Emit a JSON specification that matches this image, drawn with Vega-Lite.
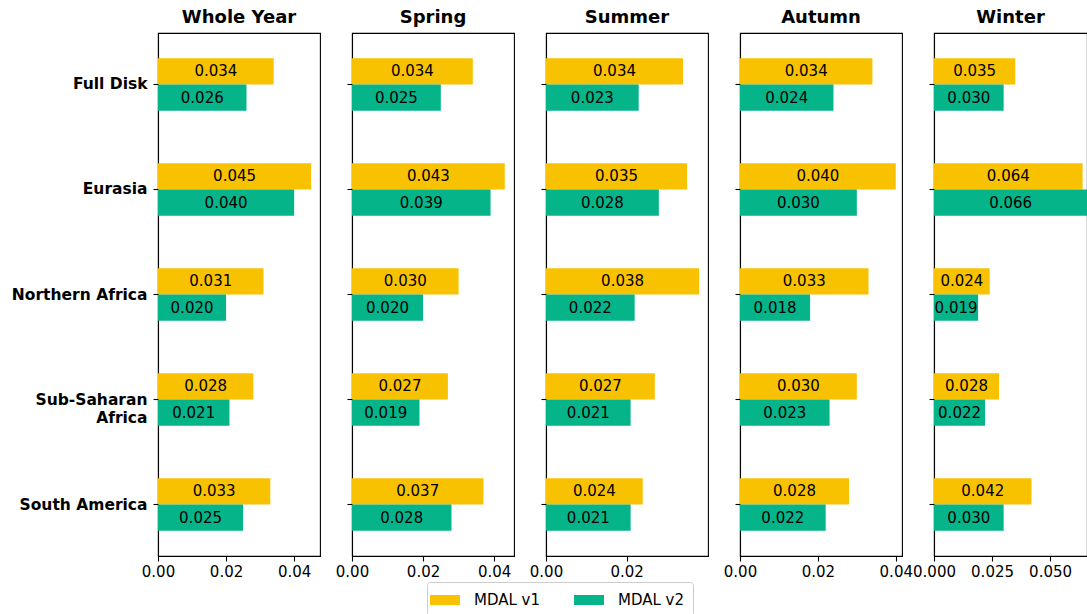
{
  "$schema": "https://vega.github.io/schema/vega-lite/v6.json",
  "padding": {"left": 10, "top": 8, "right": 0, "bottom": 0},
  "spacing": 32,
  "bounds": "flush",
  "data": {"values": [
    {"region": "Full Disk", "season": "Whole Year", "version": "MDAL v1", "value": 0.034},
    {"region": "Full Disk", "season": "Whole Year", "version": "MDAL v2", "value": 0.026},
    {"region": "Eurasia", "season": "Whole Year", "version": "MDAL v1", "value": 0.045},
    {"region": "Eurasia", "season": "Whole Year", "version": "MDAL v2", "value": 0.040},
    {"region": "Northern Africa", "season": "Whole Year", "version": "MDAL v1", "value": 0.031},
    {"region": "Northern Africa", "season": "Whole Year", "version": "MDAL v2", "value": 0.020},
    {"region": "Sub-Saharan Africa", "season": "Whole Year", "version": "MDAL v1", "value": 0.028},
    {"region": "Sub-Saharan Africa", "season": "Whole Year", "version": "MDAL v2", "value": 0.021},
    {"region": "South America", "season": "Whole Year", "version": "MDAL v1", "value": 0.033},
    {"region": "South America", "season": "Whole Year", "version": "MDAL v2", "value": 0.025},
    {"region": "Full Disk", "season": "Spring", "version": "MDAL v1", "value": 0.034},
    {"region": "Full Disk", "season": "Spring", "version": "MDAL v2", "value": 0.025},
    {"region": "Eurasia", "season": "Spring", "version": "MDAL v1", "value": 0.043},
    {"region": "Eurasia", "season": "Spring", "version": "MDAL v2", "value": 0.039},
    {"region": "Northern Africa", "season": "Spring", "version": "MDAL v1", "value": 0.030},
    {"region": "Northern Africa", "season": "Spring", "version": "MDAL v2", "value": 0.020},
    {"region": "Sub-Saharan Africa", "season": "Spring", "version": "MDAL v1", "value": 0.027},
    {"region": "Sub-Saharan Africa", "season": "Spring", "version": "MDAL v2", "value": 0.019},
    {"region": "South America", "season": "Spring", "version": "MDAL v1", "value": 0.037},
    {"region": "South America", "season": "Spring", "version": "MDAL v2", "value": 0.028},
    {"region": "Full Disk", "season": "Summer", "version": "MDAL v1", "value": 0.034},
    {"region": "Full Disk", "season": "Summer", "version": "MDAL v2", "value": 0.023},
    {"region": "Eurasia", "season": "Summer", "version": "MDAL v1", "value": 0.035},
    {"region": "Eurasia", "season": "Summer", "version": "MDAL v2", "value": 0.028},
    {"region": "Northern Africa", "season": "Summer", "version": "MDAL v1", "value": 0.038},
    {"region": "Northern Africa", "season": "Summer", "version": "MDAL v2", "value": 0.022},
    {"region": "Sub-Saharan Africa", "season": "Summer", "version": "MDAL v1", "value": 0.027},
    {"region": "Sub-Saharan Africa", "season": "Summer", "version": "MDAL v2", "value": 0.021},
    {"region": "South America", "season": "Summer", "version": "MDAL v1", "value": 0.024},
    {"region": "South America", "season": "Summer", "version": "MDAL v2", "value": 0.021},
    {"region": "Full Disk", "season": "Autumn", "version": "MDAL v1", "value": 0.034},
    {"region": "Full Disk", "season": "Autumn", "version": "MDAL v2", "value": 0.024},
    {"region": "Eurasia", "season": "Autumn", "version": "MDAL v1", "value": 0.040},
    {"region": "Eurasia", "season": "Autumn", "version": "MDAL v2", "value": 0.030},
    {"region": "Northern Africa", "season": "Autumn", "version": "MDAL v1", "value": 0.033},
    {"region": "Northern Africa", "season": "Autumn", "version": "MDAL v2", "value": 0.018},
    {"region": "Sub-Saharan Africa", "season": "Autumn", "version": "MDAL v1", "value": 0.030},
    {"region": "Sub-Saharan Africa", "season": "Autumn", "version": "MDAL v2", "value": 0.023},
    {"region": "South America", "season": "Autumn", "version": "MDAL v1", "value": 0.028},
    {"region": "South America", "season": "Autumn", "version": "MDAL v2", "value": 0.022},
    {"region": "Full Disk", "season": "Winter", "version": "MDAL v1", "value": 0.035},
    {"region": "Full Disk", "season": "Winter", "version": "MDAL v2", "value": 0.030},
    {"region": "Eurasia", "season": "Winter", "version": "MDAL v1", "value": 0.064},
    {"region": "Eurasia", "season": "Winter", "version": "MDAL v2", "value": 0.066},
    {"region": "Northern Africa", "season": "Winter", "version": "MDAL v1", "value": 0.024},
    {"region": "Northern Africa", "season": "Winter", "version": "MDAL v2", "value": 0.019},
    {"region": "Sub-Saharan Africa", "season": "Winter", "version": "MDAL v1", "value": 0.028},
    {"region": "Sub-Saharan Africa", "season": "Winter", "version": "MDAL v2", "value": 0.022},
    {"region": "South America", "season": "Winter", "version": "MDAL v1", "value": 0.042},
    {"region": "South America", "season": "Winter", "version": "MDAL v2", "value": 0.030}
  ]},
  "hconcat": [
    {
      "title": "Whole Year",
      "width": 162, "height": 523,
      "transform": [{"filter": "datum.season == 'Whole Year'"}, {"calculate": "datum.value / 2", "as": "mid"}],
      "encoding": {
        "y": {"field": "region", "type": "nominal", "sort": ["Full Disk", "Eurasia", "Northern Africa", "Sub-Saharan Africa", "South America"],
              "scale": {"paddingInner": 0.5, "paddingOuter": 0.24},
              "axis": {"title": null, "labelFontWeight": "bold", "labelFontSize": 15.5, "labelPadding": 6, "labelLineHeight": 18,
                       "labelExpr": "datum.value == 'Sub-Saharan Africa' ? ['Sub-Saharan', 'Africa'] : datum.value"}},
        "yOffset": {"field": "version", "type": "nominal", "sort": ["MDAL v1", "MDAL v2"], "scale": {"paddingInner": 0, "paddingOuter": 0}}
      },
      "layer": [
        {"mark": {"type": "bar", "clip": true},
         "encoding": {
           "x": {"field": "value", "type": "quantitative", "scale": {"domain": [0, 0.0476], "nice": false},
                 "axis": {"title": null, "values": [0, 0.02, 0.04], "format": ".2f"}},
           "color": {"field": "version", "type": "nominal", "scale": {"domain": ["MDAL v1", "MDAL v2"], "range": ["#F9C200", "#06B48A"]},
                     "legend": {"title": null, "orient": "none", "legendX": 269, "legendY": 549, "direction": "horizontal"}}
         }},
        {"mark": {"type": "text", "fontSize": 15, "color": "black", "clip": true},
         "encoding": {"x": {"field": "mid", "type": "quantitative"}, "text": {"field": "value", "type": "quantitative", "format": ".3f"}}}
      ]
    },
    {
      "title": "Spring",
      "width": 162, "height": 523,
      "transform": [{"filter": "datum.season == 'Spring'"}, {"calculate": "datum.value / 2", "as": "mid"}],
      "encoding": {
        "y": {"field": "region", "type": "nominal", "sort": ["Full Disk", "Eurasia", "Northern Africa", "Sub-Saharan Africa", "South America"],
              "scale": {"paddingInner": 0.5, "paddingOuter": 0.24}, "axis": {"title": null, "labels": false}},
        "yOffset": {"field": "version", "type": "nominal", "sort": ["MDAL v1", "MDAL v2"], "scale": {"paddingInner": 0, "paddingOuter": 0}}
      },
      "layer": [
        {"mark": {"type": "bar", "clip": true},
         "encoding": {
           "x": {"field": "value", "type": "quantitative", "scale": {"domain": [0, 0.0456], "nice": false},
                 "axis": {"title": null, "values": [0, 0.02, 0.04], "format": ".2f"}},
           "color": {"field": "version", "type": "nominal", "scale": {"domain": ["MDAL v1", "MDAL v2"], "range": ["#F9C200", "#06B48A"]},
                     "legend": {"title": null, "orient": "none", "legendX": 269, "legendY": 549, "direction": "horizontal"}}
         }},
        {"mark": {"type": "text", "fontSize": 15, "color": "black", "clip": true},
         "encoding": {"x": {"field": "mid", "type": "quantitative"}, "text": {"field": "value", "type": "quantitative", "format": ".3f"}}}
      ]
    },
    {
      "title": "Summer",
      "width": 162, "height": 523,
      "transform": [{"filter": "datum.season == 'Summer'"}, {"calculate": "datum.value / 2", "as": "mid"}],
      "encoding": {
        "y": {"field": "region", "type": "nominal", "sort": ["Full Disk", "Eurasia", "Northern Africa", "Sub-Saharan Africa", "South America"],
              "scale": {"paddingInner": 0.5, "paddingOuter": 0.24}, "axis": {"title": null, "labels": false}},
        "yOffset": {"field": "version", "type": "nominal", "sort": ["MDAL v1", "MDAL v2"], "scale": {"paddingInner": 0, "paddingOuter": 0}}
      },
      "layer": [
        {"mark": {"type": "bar", "clip": true},
         "encoding": {
           "x": {"field": "value", "type": "quantitative", "scale": {"domain": [0, 0.0402], "nice": false},
                 "axis": {"title": null, "values": [0, 0.02], "format": ".2f"}},
           "color": {"field": "version", "type": "nominal", "scale": {"domain": ["MDAL v1", "MDAL v2"], "range": ["#F9C200", "#06B48A"]},
                     "legend": {"title": null, "orient": "none", "legendX": 269, "legendY": 549, "direction": "horizontal"}}
         }},
        {"mark": {"type": "text", "fontSize": 15, "color": "black", "clip": true},
         "encoding": {"x": {"field": "mid", "type": "quantitative"}, "text": {"field": "value", "type": "quantitative", "format": ".3f"}}}
      ]
    },
    {
      "title": "Autumn",
      "width": 162, "height": 523,
      "transform": [{"filter": "datum.season == 'Autumn'"}, {"calculate": "datum.value / 2", "as": "mid"}],
      "encoding": {
        "y": {"field": "region", "type": "nominal", "sort": ["Full Disk", "Eurasia", "Northern Africa", "Sub-Saharan Africa", "South America"],
              "scale": {"paddingInner": 0.5, "paddingOuter": 0.24}, "axis": {"title": null, "labels": false}},
        "yOffset": {"field": "version", "type": "nominal", "sort": ["MDAL v1", "MDAL v2"], "scale": {"paddingInner": 0, "paddingOuter": 0}}
      },
      "layer": [
        {"mark": {"type": "bar", "clip": true},
         "encoding": {
           "x": {"field": "value", "type": "quantitative", "scale": {"domain": [0, 0.0416], "nice": false},
                 "axis": {"title": null, "values": [0, 0.02, 0.04], "format": ".2f"}},
           "color": {"field": "version", "type": "nominal", "scale": {"domain": ["MDAL v1", "MDAL v2"], "range": ["#F9C200", "#06B48A"]},
                     "legend": {"title": null, "orient": "none", "legendX": 269, "legendY": 549, "direction": "horizontal"}}
         }},
        {"mark": {"type": "text", "fontSize": 15, "color": "black", "clip": true},
         "encoding": {"x": {"field": "mid", "type": "quantitative"}, "text": {"field": "value", "type": "quantitative", "format": ".3f"}}}
      ]
    },
    {
      "title": "Winter",
      "width": 153, "height": 523,
      "transform": [{"filter": "datum.season == 'Winter'"}, {"calculate": "datum.value / 2", "as": "mid"}],
      "encoding": {
        "y": {"field": "region", "type": "nominal", "sort": ["Full Disk", "Eurasia", "Northern Africa", "Sub-Saharan Africa", "South America"],
              "scale": {"paddingInner": 0.5, "paddingOuter": 0.24}, "axis": {"title": null, "labels": false}},
        "yOffset": {"field": "version", "type": "nominal", "sort": ["MDAL v1", "MDAL v2"], "scale": {"paddingInner": 0, "paddingOuter": 0}}
      },
      "layer": [
        {"mark": {"type": "bar", "clip": true},
         "encoding": {
           "x": {"field": "value", "type": "quantitative", "scale": {"domain": [0, 0.0659], "nice": false},
                 "axis": {"title": null, "values": [0, 0.025, 0.05], "format": ".3f"}},
           "color": {"field": "version", "type": "nominal", "scale": {"domain": ["MDAL v1", "MDAL v2"], "range": ["#F9C200", "#06B48A"]},
                     "legend": {"title": null, "orient": "none", "legendX": 269, "legendY": 549, "direction": "horizontal"}}
         }},
        {"mark": {"type": "text", "fontSize": 15, "color": "black", "clip": true},
         "encoding": {"x": {"field": "mid", "type": "quantitative"}, "text": {"field": "value", "type": "quantitative", "format": ".3f"}}}
      ]
    }
  ],
  "config": {
    "font": "DejaVu Sans",
    "view": {"stroke": "black", "strokeWidth": 1.1},
    "axis": {"domainColor": "black", "domainWidth": 1.1, "tickColor": "black", "tickWidth": 1.1, "tickSize": 5,
             "labelColor": "black", "labelFontSize": 15, "labelFont": "DejaVu Sans", "grid": false,
             "labelFlush": false, "labelOverlap": false, "labelBound": false, "labelPadding": 5},
    "axisX": {"labelPadding": 3},
    "title": {"fontSize": 18, "font": "DejaVu Sans", "fontWeight": "bold", "color": "black", "anchor": "middle", "offset": 6},
    "legend": {"labelFontSize": 15, "labelColor": "black", "labelFont": "DejaVu Sans",
               "symbolType": "M-1.5,-0.5H1.5V0.5H-1.5Z", "symbolSize": 400, "symbolStrokeWidth": 0, "symbolOpacity": 1,
               "strokeColor": "#cccccc", "cornerRadius": 3, "padding": 8, "fillColor": "white",
               "labelOffset": 19, "columnPadding": 33}
  }
}
